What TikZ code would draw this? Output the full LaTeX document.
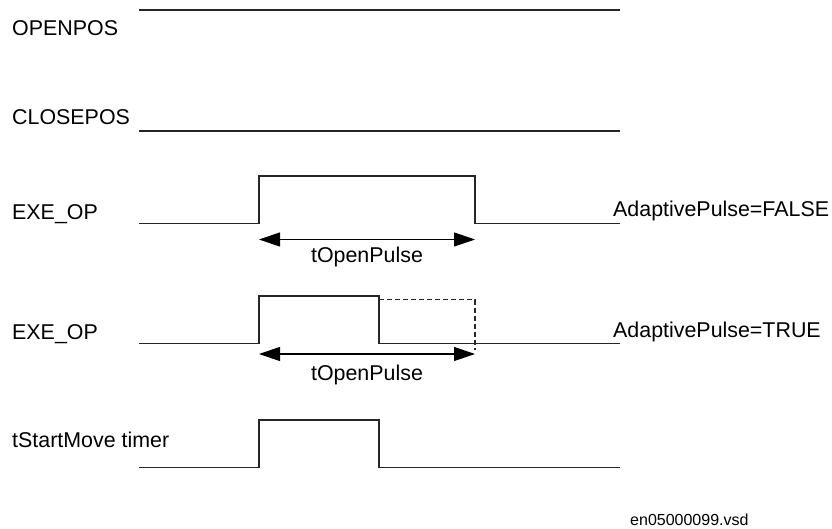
\documentclass[tikz,border=0pt]{standalone}
\usepackage{fontspec}
\setmainfont{Liberation Sans}
\usetikzlibrary{arrows.meta}
\begin{document}
\begin{tikzpicture}[x=1pt,y=-1pt,
  sig/.style={line width=1.2pt,draw=black!85,line join=miter},
  dashsig/.style={line width=1.1pt,draw=black!85,dash pattern=on 5pt off 3pt},
  dim/.style={line width=1.2pt,{Triangle[length=21pt,width=14pt]}-{Triangle[length=21pt,width=14pt]}},
  lbl/.style={anchor=base west,inner sep=0pt,font=\fontsize{21.4}{25}\selectfont},
  clbl/.style={anchor=base,inner sep=0pt,font=\fontsize{21.4}{25}\selectfont},
  small/.style={anchor=base west,inner sep=0pt,font=\fontsize{16}{19}\selectfont}]
\useasboundingbox (0,0) rectangle (832,529);
% labels
\node[lbl] (lopen) at (12,36) {OPENPOS};
\node[lbl] (lclose) at (12,125) {CLOSEPOS};
\node[lbl] (lexe1) at (12,219.5) {EXE\_OP};
\node[lbl] (lexe2) at (12,339.5) {EXE\_OP};
\node[lbl] (ltsm) at (12,447) {tStartMove timer};
\node[lbl] (lfalse) at (613,217) {AdaptivePulse=FALSE};
\node[lbl] (ltrue) at (613,337) {AdaptivePulse=TRUE};
\node[clbl] (tp1) at (367,262) {tOpenPulse};
\node[clbl] (tp2) at (367,380) {tOpenPulse};
\node[small] (file) at (630,525) {en05000099.vsd};
% OPENPOS / CLOSEPOS
\coordinate (o1) at (139,10); \coordinate (o2) at (620,10);
\coordinate (c1) at (139,131); \coordinate (c2) at (620,131);
\draw[sig] (o1) -- (o2);
\draw[sig] (c1) -- (c2);
% EXE_OP 1
\coordinate (e1s) at (139,223.5); \coordinate (e1e) at (620,223.5);
\draw[sig] (e1s) -- (259,223.5) -- (259,176) -- (475,176) -- (475,223.5) -- (e1e);
\coordinate (a1l) at (259,239.5); \coordinate (a1r) at (475,239.5);
\draw[dim] (a1l) -- (a1r);
% EXE_OP 2
\coordinate (e2s) at (139,343.5); \coordinate (e2e) at (620,343.5);
\draw[sig] (e2s) -- (259,343.5) -- (259,296) -- (379,296) -- (379,343.5) -- (e2e);
\coordinate (d1) at (379,299.5); \coordinate (d2) at (475,299.5); \coordinate (d3) at (475,350);
\draw[dashsig] (d1) -- (d2) -- (d3);
\coordinate (a2l) at (259,354); \coordinate (a2r) at (475,354);
\draw[dim] (a2l) -- (a2r);
% tStartMove timer
\coordinate (t1s) at (139,467.5); \coordinate (t1e) at (620,467.5);
\draw[sig] (t1s) -- (259,467.5) -- (259,420) -- (379,420) -- (379,467.5) -- (t1e);
\end{tikzpicture}
\end{document}
